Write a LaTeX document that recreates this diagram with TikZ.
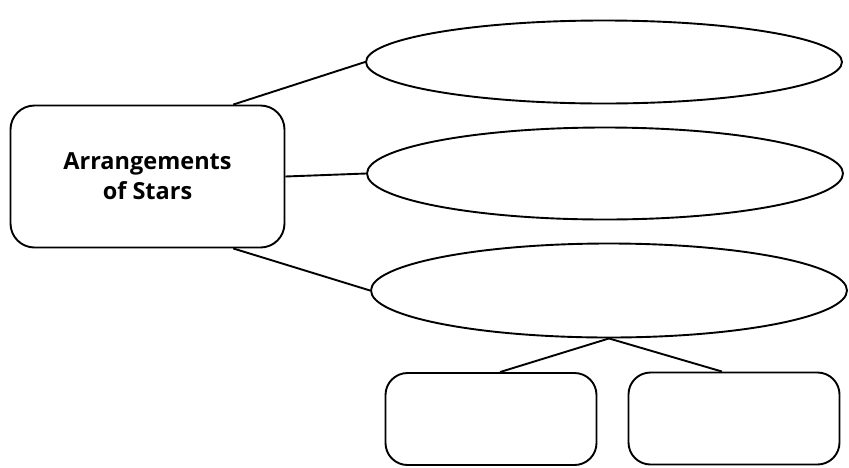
\documentclass[tikz,border=0pt]{standalone}
\usepackage{fontspec}
\setmainfont{Open Sans}
\usetikzlibrary{shapes.geometric}

\begin{document}
\begin{tikzpicture}[x=1pt, y=-1pt, line width=1.9pt,
    mainbox/.style={draw=black, rounded corners=24pt, minimum width=274pt, minimum height=142pt,
        align=center, font=\fontsize{23.5}{30}\selectfont\bfseries},
    oval/.style={draw=black, ellipse, minimum width=476pt},
    answerbox/.style={draw=black, rounded corners=22pt, minimum width=211pt, minimum height=92pt}]
    \useasboundingbox (0,0) rectangle (849,467);
    % center topic
    \node[mainbox] (arr) at (147.5,176.5) {Arrangements\\of Stars};
    % three ovals
    \node[oval, minimum height=83pt] (ov1) at (604,62) {};
    \node[oval, minimum height=92pt] (ov2) at (605,173.5) {};
    \node[oval, minimum height=94pt] (ov3) at (609,290.5) {};
    % two boxes under the last oval
    \node[answerbox] (ans1) at (491,419) {};
    \node[answerbox] (ans2) at (734,418.5) {};
    \draw (arr.40) -- (ov1.west);
    \draw (arr.east) -- (ov2.west);
    \draw (arr.-40) -- (ov3.west);
    \draw (ov3.south) -- ([xshift=9pt]ans1.north);
    \draw (ov3.south) -- ([xshift=-12pt]ans2.north);
\end{tikzpicture}
\end{document}
